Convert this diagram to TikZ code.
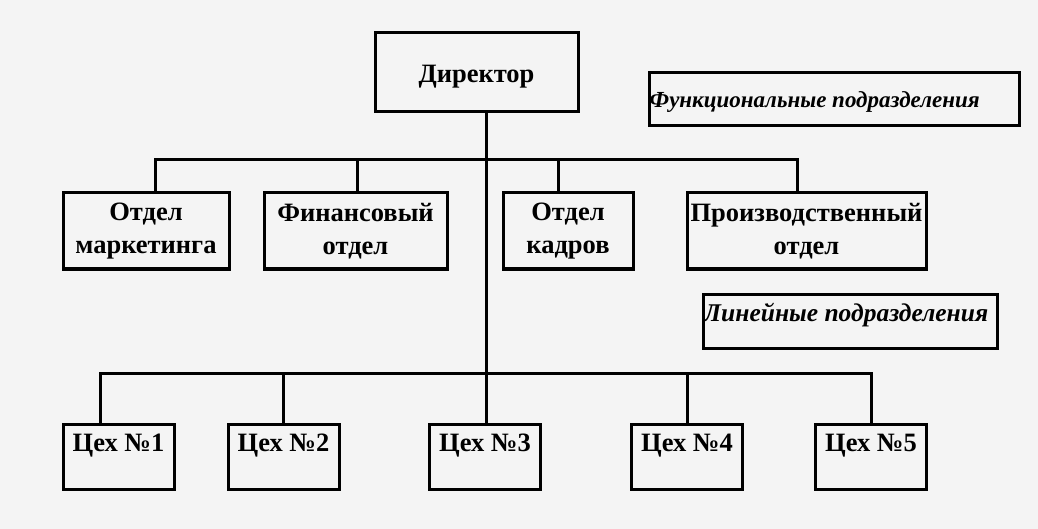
\documentclass[tikz,border=0pt]{standalone}
\usepackage{fontspec}
\setmainfont{Liberation Serif}
\begin{document}
\begin{tikzpicture}[x=1pt,y=-1pt,
  box/.style={draw=black, line width=3pt, fill=none, inner sep=0pt, align=center,
    font=\fontsize{26.5}{33}\selectfont\bfseries},
  frame/.style={draw=black, line width=3pt, fill=none, inner sep=0pt},
  conn/.style={line width=3pt, line cap=rect},
  lbl/.style={font=\fontsize{26.5}{33}\selectfont\bfseries, inner sep=0pt},
  itl/.style={font=\fontsize{23}{28}\selectfont\bfseries\itshape, inner sep=0pt}]
\fill[fill={rgb,255:red,244;green,244;blue,244}] (0,0) rectangle (1038,529);
\useasboundingbox (0,0) rectangle (1038,529);

\node[box, minimum width=203pt, minimum height=79pt, text height=27pt, text depth=6pt] (dir) at (476.5,72.5) {Директор};

\node[box, minimum width=166pt, minimum height=76pt] (mkt) at (146,231) {Отдел\\маркетинга};
\node[box, minimum width=183pt, minimum height=76pt] (fin) at (355.5,231) {Финансовый\\отдел};
\node[box, minimum width=130pt, minimum height=76pt] (kdr) at (568,231) {Отдел\\кадров};
\node[box, minimum width=239pt, minimum height=76pt] (prd) at (806.5,231) {Производственный\\отдел};

\node[frame, minimum width=370pt, minimum height=53pt,
  label={[itl, anchor=west, yshift=-3pt]west:{\hspace{2pt}Функциональные подразделения}}] (fun) at (834,99.5) {};
\node[frame, minimum width=294pt, minimum height=54pt,
  label={[itl, font=\fontsize{25.5}{30}\selectfont\bfseries\itshape, anchor=west, yshift=6pt]west:{\hspace{2pt}Линейные подразделения}}] (lin) at (850,321) {};

\foreach \n/\x/\t in {c1/118.5/1, c2/283.5/2, c3/485/3, c4/687/4, c5/871/5}{
  \node[frame, minimum width=111pt, minimum height=65pt,
    label={[lbl, anchor=north, yshift=-11pt]north:{Цех №\t}}] (\n) at (\x,456.5) {};
}

% top bus
\coordinate (tj) at (486,160);
\coordinate (t1) at (155,160);
\coordinate (t2) at (357,160);
\coordinate (t3) at (558,160);
\coordinate (t4) at (797,160);
\draw[conn] (t1) -- (t4);
\draw[conn] (t1) -- (t1 |- mkt.north);
\draw[conn] (t2) -- (t2 |- fin.north);
\draw[conn] (t3) -- (t3 |- kdr.north);
\draw[conn] (t4) -- (t4 |- prd.north);

% bottom bus
\coordinate (bj) at (486,373);
\coordinate (b1) at (100,373);
\coordinate (b2) at (283,373);
\coordinate (b4) at (687,373);
\coordinate (b5) at (871,373);
\draw[conn] (b1) -- (b5);
\draw[conn] (dir.south -| bj) -- (bj);
\draw[conn] (b1) -- (b1 |- c1.north);
\draw[conn] (b2) -- (b2 |- c2.north);
\draw[conn] (bj) -- (bj |- c3.north);
\draw[conn] (b4) -- (b4 |- c4.north);
\draw[conn] (b5) -- (b5 |- c5.north);
\end{tikzpicture}
\end{document}
